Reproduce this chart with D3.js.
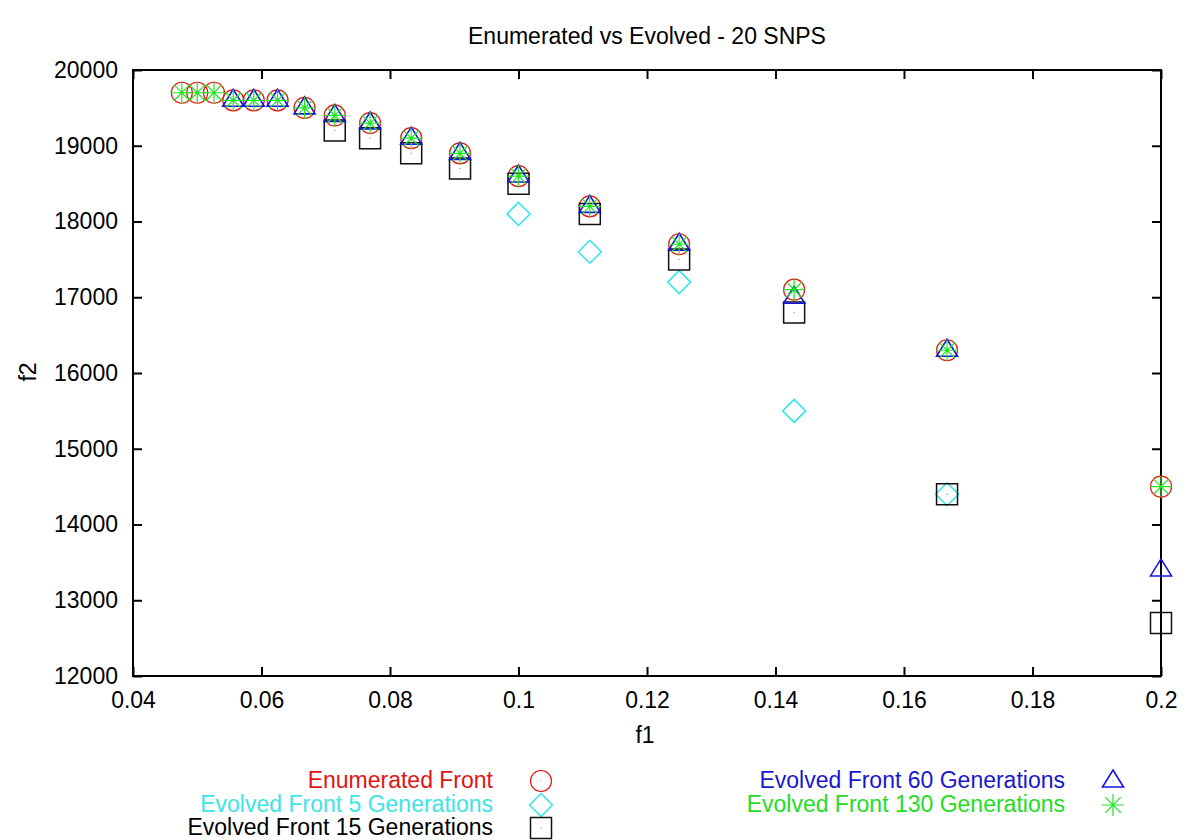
<!DOCTYPE html>
<html>
<head>
<meta charset="utf-8">
<script src="https://cdn.jsdelivr.net/npm/d3@7"></script>
<style>
  body { margin: 0; background: #fff; }
  svg { display: block; }
  text { font-family: "Liberation Sans", Arial, sans-serif; }
</style>
</head>
<body>
<svg id="chart" width="1200" height="840"></svg>
<script>
// ---------- data ----------
const title = "Enumerated vs Evolved - 20 SNPS";
const xLabel = "f1";
const yLabel = "f2";
const xTicks = [0.04, 0.06, 0.08, 0.1, 0.12, 0.14, 0.16, 0.18, 0.2];
const xTickLabels = ["0.04", "0.06", "0.08", "0.1", "0.12", "0.14", "0.16", "0.18", "0.2"];
const yTicks = [12000, 13000, 14000, 15000, 16000, 17000, 18000, 19000, 20000];
const yTickLabels = ["12000", "13000", "14000", "15000", "16000", "17000", "18000", "19000", "20000"];

const enumF1 = [0.0476, 0.05, 0.0526, 0.0556, 0.0588, 0.0625, 0.0667, 0.0714, 0.0769, 0.0833, 0.0909, 0.1, 0.1111, 0.125, 0.1429, 0.1667, 0.2];
const enumF2 = [19700, 19700, 19700, 19600, 19600, 19600, 19500, 19400, 19300, 19100, 18900, 18600, 18200, 17700, 17100, 16300, 14500];

const gen5F1 = [0.1, 0.1111, 0.125, 0.1429, 0.1667];
const gen5F2 = [18100, 17600, 17200, 15500, 14400];

const gen15F1 = [0.0714, 0.0769, 0.0833, 0.0909, 0.1, 0.1111, 0.125, 0.1429, 0.1667, 0.2];
const gen15F2 = [19200, 19100, 18900, 18700, 18500, 18100, 17500, 16800, 14400, 12700];

const gen60F1 = [0.0556, 0.0588, 0.0625, 0.0667, 0.0714, 0.0769, 0.0833, 0.0909, 0.1, 0.1111, 0.125, 0.1429, 0.1667, 0.2];
const gen60F2 = [19600, 19600, 19600, 19500, 19400, 19300, 19100, 18900, 18600, 18200, 17700, 17000, 16300, 13400];

const gen130F1 = [0.0476, 0.05, 0.0526, 0.0556, 0.0588, 0.0625, 0.0667, 0.0714, 0.0769, 0.0833, 0.0909, 0.1, 0.1111, 0.125, 0.1429, 0.1667, 0.2];
const gen130F2 = [19700, 19700, 19700, 19600, 19600, 19600, 19500, 19400, 19300, 19100, 18900, 18600, 18200, 17700, 17100, 16300, 14500];

const seriesNames = ["Enumerated Front", "Evolved Front 5 Generations", "Evolved Front 15 Generations", "Evolved Front 60 Generations", "Evolved Front 130 Generations"];

// ---------- styles ----------
const series = [
  { name: seriesNames[0], f1: enumF1, f2: enumF2, color: "#ee1111", text: "#e01515", shape: "circle", sw: 1.2 },
  { name: seriesNames[1], f1: gen5F1, f2: gen5F2, color: "#2ee6ee", text: "#3ee3e8", shape: "diamond", sw: 1.5 },
  { name: seriesNames[2], f1: gen15F1, f2: gen15F2, color: "#111111", text: "#000000", shape: "square", sw: 1.5 },
  { name: seriesNames[3], f1: gen60F1, f2: gen60F2, color: "#1515dd", text: "#1818cc", shape: "triangle", sw: 1.6 },
  { name: seriesNames[4], f1: gen130F1, f2: gen130F2, color: "#1ee61e", text: "#22dd22", shape: "star", sw: 1.2 }
];

const FONT = 23;
const LS = "0px";

const svg = d3.select("#chart");
const M = { left: 133, right: 1161, top: 70, bottom: 676 };
const x = d3.scaleLinear().domain([0.04, 0.2]).range([M.left, M.right]);
const y = d3.scaleLinear().domain([12000, 20000]).range([M.bottom, M.top]);

function shapePath(shape) {
  const p = d3.path();
  if (shape === "circle") {
    p.moveTo(10.5, 0); p.arc(0, 0, 10.5, 0, 2 * Math.PI);
  } else if (shape === "square") {
    const h = 10.5; p.rect(-h, -h, 2 * h, 2 * h);
  } else if (shape === "diamond") {
    const h = 11.5; p.moveTo(0, -h); p.lineTo(h, 0); p.lineTo(0, h); p.lineTo(-h, 0); p.closePath();
  } else if (shape === "triangle") {
    p.moveTo(0, -11); p.lineTo(10.5, 6); p.lineTo(-10.5, 6); p.closePath();
  } else if (shape === "star") {
    const r = 11, d = 7.8;
    p.moveTo(-r, 0); p.lineTo(r, 0);
    p.moveTo(0, -r); p.lineTo(0, r);
    p.moveTo(-d, -d); p.lineTo(d, d);
    p.moveTo(-d, d); p.lineTo(d, -d);
  }
  return p.toString();
}

function drawMarker(g, shape, color, sw) {
  g.append("path").attr("d", shapePath(shape)).attr("fill", "none")
    .attr("stroke", color).attr("stroke-width", sw);
  if (shape !== "star") {
    g.append("rect").attr("x", -0.5).attr("y", -0.5).attr("width", 1).attr("height", 1)
      .attr("fill", color).attr("opacity", 0.6);
  }
}

// ---------- title & labels ----------
svg.append("text").attr("x", 647).attr("y", 44).attr("text-anchor", "middle")
  .attr("font-size", FONT).attr("letter-spacing", LS).text(title);
svg.append("text").attr("x", 645).attr("y", 743).attr("text-anchor", "middle")
  .attr("font-size", FONT).attr("letter-spacing", LS).text(xLabel);
svg.append("text").attr("transform", "translate(36,372) rotate(-90)").attr("text-anchor", "middle")
  .attr("font-size", FONT).attr("letter-spacing", LS).text(yLabel);

// ---------- axes ----------
function styleAxis(g) {
  g.select(".domain").remove();
  g.selectAll(".tick line").attr("stroke", "#000").attr("stroke-width", 2);
  g.selectAll(".tick text").attr("font-family", "Liberation Sans, Arial, sans-serif")
    .attr("font-size", FONT).attr("letter-spacing", LS).attr("fill", "#000");
}
svg.append("g").attr("transform", `translate(0,${M.bottom})`)
  .call(d3.axisBottom(x).tickValues(xTicks).tickSize(-9).tickPadding(16)
    .tickFormat((d, i) => xTickLabels[i]))
  .call(styleAxis);
svg.append("g").attr("transform", `translate(0,${M.top})`)
  .call(d3.axisTop(x).tickValues(xTicks).tickSize(-9).tickFormat(""))
  .call(styleAxis);
svg.append("g").attr("transform", `translate(${M.left},0)`)
  .call(d3.axisLeft(y).tickValues(yTicks).tickSize(-9).tickPadding(15)
    .tickFormat((d, i) => yTickLabels[i]))
  .call(styleAxis);
svg.append("g").attr("transform", `translate(${M.right},0)`)
  .call(d3.axisRight(y).tickValues(yTicks).tickSize(-9).tickFormat(""))
  .call(styleAxis);

svg.append("rect").attr("x", M.left).attr("y", M.top).attr("width", M.right - M.left).attr("height", M.bottom - M.top)
  .attr("fill", "none").attr("stroke", "#000").attr("stroke-width", 2);

// ---------- points ----------
series.forEach(s => {
  const g = svg.append("g");
  s.f1.forEach((v, i) => {
    const m = g.append("g").attr("transform", `translate(${x(v)},${y(s.f2[i])})`);
    drawMarker(m, s.shape, s.color, s.sw);
  });
});

// ---------- legend ----------
const legendPos = [
  { tx: 493, mx: 541, y: 781 },
  { tx: 493, mx: 541, y: 805 },
  { tx: 493, mx: 541, y: 828 },
  { tx: 1065, mx: 1113, y: 781 },
  { tx: 1065, mx: 1113, y: 805 }
];
series.forEach((s, i) => {
  const p = legendPos[i];
  svg.append("text").attr("x", p.tx).attr("y", p.y).attr("dy", "0.32em")
    .attr("text-anchor", "end").attr("font-size", FONT).attr("letter-spacing", LS)
    .attr("fill", s.text).text(s.name);
  const m = svg.append("g").attr("transform", `translate(${p.mx},${p.y})`);
  drawMarker(m, s.shape, s.color, s.sw);
});
</script>
</body>
</html>
